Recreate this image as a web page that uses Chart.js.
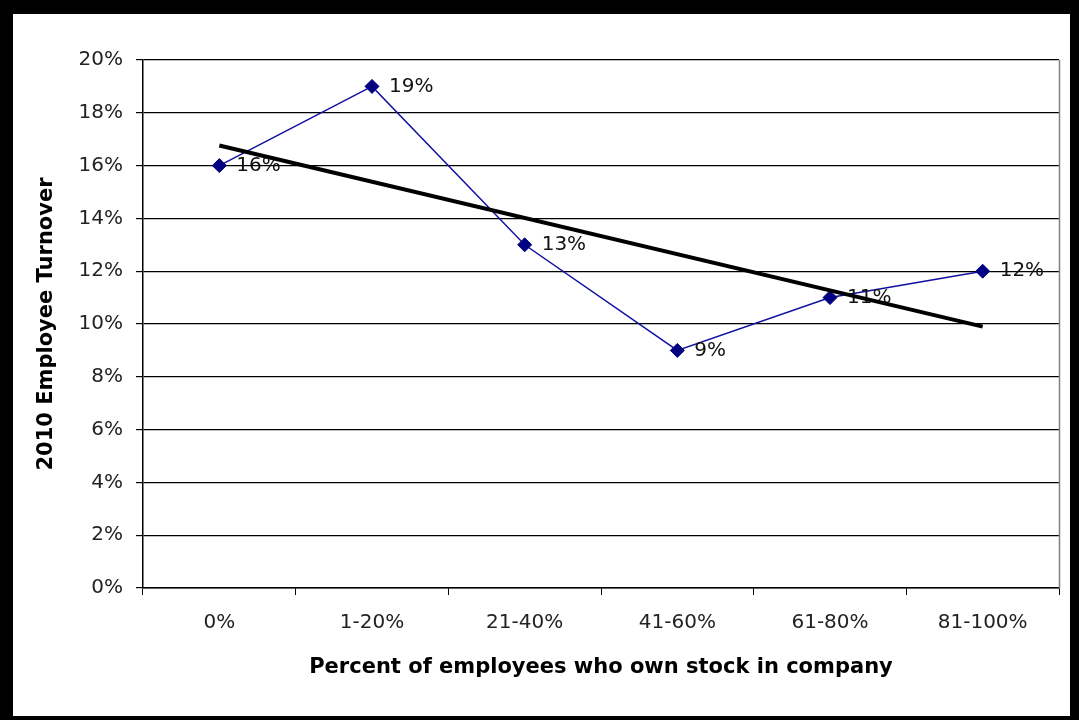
<!DOCTYPE html>
<html>
<head>
<meta charset="utf-8">
<script src="https://cdn.jsdelivr.net/npm/chart.js@4/dist/chart.umd.min.js"></script>
<style>
  html, body { margin: 0; padding: 0; background: #000; }
  body { width: 1079px; height: 720px; position: relative; overflow: hidden; }
  #frame { position: absolute; left: 13px; top: 14px; width: 1057px; height: 702px; background: #fff; }
  #c { display: block; }
</style>
</head>
<body>
<div id="frame"><canvas id="c" width="1057" height="702"></canvas></div>
<script>
const categories = ['0%', '1-20%', '21-40%', '41-60%', '61-80%', '81-100%'];
const turnover = [16, 19, 13, 9, 11, 12];
// linear trend line (start and end points)
const trendValues = [16.76, null, null, null, null, 9.9];
const yTicks = [0, 2, 4, 6, 8, 10, 12, 14, 16, 18, 20];

const FONT = '"DejaVu Sans", sans-serif';

const labelPlugin = {
  id: 'pointLabels',
  beforeDatasetsDraw(chart) {
    const { ctx, chartArea } = chart;
    ctx.save();
    ctx.strokeStyle = '#808080';
    ctx.lineWidth = 1.5;
    ctx.beginPath();
    ctx.moveTo(Math.round(chartArea.right) + 0.5, chartArea.top);
    ctx.lineTo(Math.round(chartArea.right) + 0.5, chartArea.bottom);
    ctx.stroke();
    ctx.restore();
  },
  afterDatasetDraw(chart, args) {
    if (args.meta.label !== 'Turnover') return;
    const { ctx } = chart;
    ctx.save();
    ctx.font = '20px ' + FONT;
    ctx.fillStyle = '#111';
    ctx.textAlign = 'left';
    ctx.textBaseline = 'middle';
    args.meta.data.forEach((pt, i) => {
      ctx.fillText(turnover[i] + '%', pt.x + 17, pt.y);
    });
    ctx.restore();
  }
};

new Chart(document.getElementById('c'), {
  type: 'line',
  data: {
    labels: categories,
    datasets: [
      {
        label: 'Trend',
        data: trendValues,
        spanGaps: true,
        borderColor: '#000',
        borderWidth: 4,
        pointRadius: 0,
        tension: 0,
        order: 0
      },
      {
        label: 'Turnover',
        data: turnover,
        borderColor: '#1010a0',
        borderWidth: 1.5,
        pointStyle: 'rectRot',
        pointRadius: 7,
        pointBackgroundColor: '#000080',
        pointBorderColor: '#000080',
        pointBorderWidth: 1,
        tension: 0,
        order: 1
      }
    ]
  },
  options: {
    responsive: false,
    animation: false,
    devicePixelRatio: 1,
    layout: { padding: { left: 0, right: 11, top: 46, bottom: 0 } },
    plugins: { legend: { display: false }, tooltip: { enabled: false }, title: { display: false } },
    scales: {
      x: {
        type: 'category',
        offset: true,
        grid: { display: true, offset: true, drawOnChartArea: false, drawTicks: true, tickLength: 7, color: '#000', lineWidth: 1 },
        border: { display: true, color: '#000', width: 1.5 },
        ticks: { color: '#222', font: { family: FONT, size: 20 }, padding: 16, maxRotation: 0, autoSkip: false },
        title: { display: true, text: 'Percent of employees who own stock in company', color: '#000',
                 font: { family: FONT, size: 21, weight: 'bold' }, padding: { top: 0, bottom: 36 } },
        afterFit(scale) { scale.height = 128; }
      },
      y: {
        min: 0,
        max: 20,
        afterBuildTicks(scale) { scale.ticks = yTicks.map(v => ({ value: v })); },
        grid: { color: '#000', lineWidth: 1.2, tickLength: 7, drawTicks: true },
        border: { display: true, color: '#000', width: 1.5 },
        ticks: { color: '#222', font: { family: FONT, size: 20 }, padding: 13, callback: v => v + '%' },
        title: { display: true, text: '2010 Employee Turnover', color: '#000',
                 font: { family: FONT, size: 21, weight: 'bold' }, padding: { top: 21, bottom: 0 } },
        afterFit(scale) { scale.width = 130; }
      }
    }
  },
  plugins: [labelPlugin]
});
</script>
</body>
</html>
